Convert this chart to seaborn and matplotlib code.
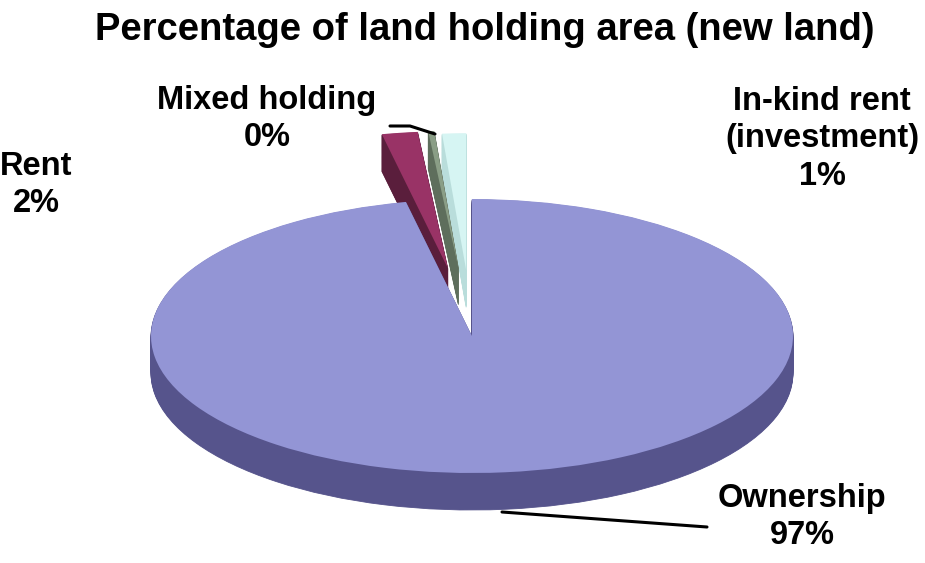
import matplotlib
matplotlib.use("Agg")
import matplotlib.pyplot as plt
from matplotlib.lines import Line2D
import seaborn as sns

# data
categories = ["Ownership", "Rent", "Mixed holding", "In-kind rent\n(investment)"]
shares = [96.7, 1.8, 0.3, 1.2]
explode = [0.0, 0.5, 0.5, 0.48]
top_colors = ["#9395D5", "#993366", "#8A9E86", "#D6F5F3"]
side_colors = ["#56548C", "#5A1E3C", "#5E6E5C", "#B9DDDB"]

sns.set_theme(style="white")
plt.rcParams["font.family"] = ["Liberation Sans", "DejaVu Sans"]
plt.rcParams["text.color"] = "black"

W, H = 925, 563
fig = plt.figure(figsize=(W / 100, H / 100), dpi=100)
ax = fig.add_axes([0, 0, 1, 1])

# ellipse geometry in pixels: centre, half axes, thickness
cx, cy, a, b, depth = 472, 336, 321, 137, 37

# side wall: stack of darker pies pushed down
n = 40
for i in range(n, 0, -1):
    d = depth / b * i / n
    ax.pie(shares, colors=side_colors, explode=explode, startangle=90,
           counterclock=False, center=(0, -d),
           wedgeprops=dict(linewidth=0.6))
    for w, c in zip(ax.patches[-len(shares):], side_colors):
        w.set_edgecolor(c)

# top face
ax.pie(shares, colors=top_colors, explode=explode, startangle=90,
       counterclock=False, center=(0, 0), wedgeprops=dict(linewidth=0))

ax.set_aspect("auto")
ax.set_xlim(-cx / a, (W - cx) / a)
ax.set_ylim(-(H - cy) / b, cy / b)
ax.axis("off")

# labels
def fx(x):
    return x / W

def fy(y):
    return 1 - y / H

fig.text(fx(485), fy(30), "Percentage of land holding area (new land)",
         ha="center", va="center", fontsize=27.5, fontweight="bold", color="black")

label_pos = [(802, 517), (36, 185), (267, 119), (822, 139)]
for name, v, (x, y) in zip(categories, shares, label_pos):
    fig.text(fx(x), fy(y), f"{name}\n{round(v)}%", ha="center", va="center",
             fontsize=23.5, fontweight="bold", linespacing=1.28, color="black")

# leader lines
for xs, ys in [([502, 707], [512, 527]), ([390, 410, 435], [126, 126, 134])]:
    fig.add_artist(Line2D([fx(x) for x in xs], [fy(y) for y in ys],
                          color="black", lw=2.2, transform=fig.transFigure))

fig.savefig("out.png", dpi=100, facecolor="white")
